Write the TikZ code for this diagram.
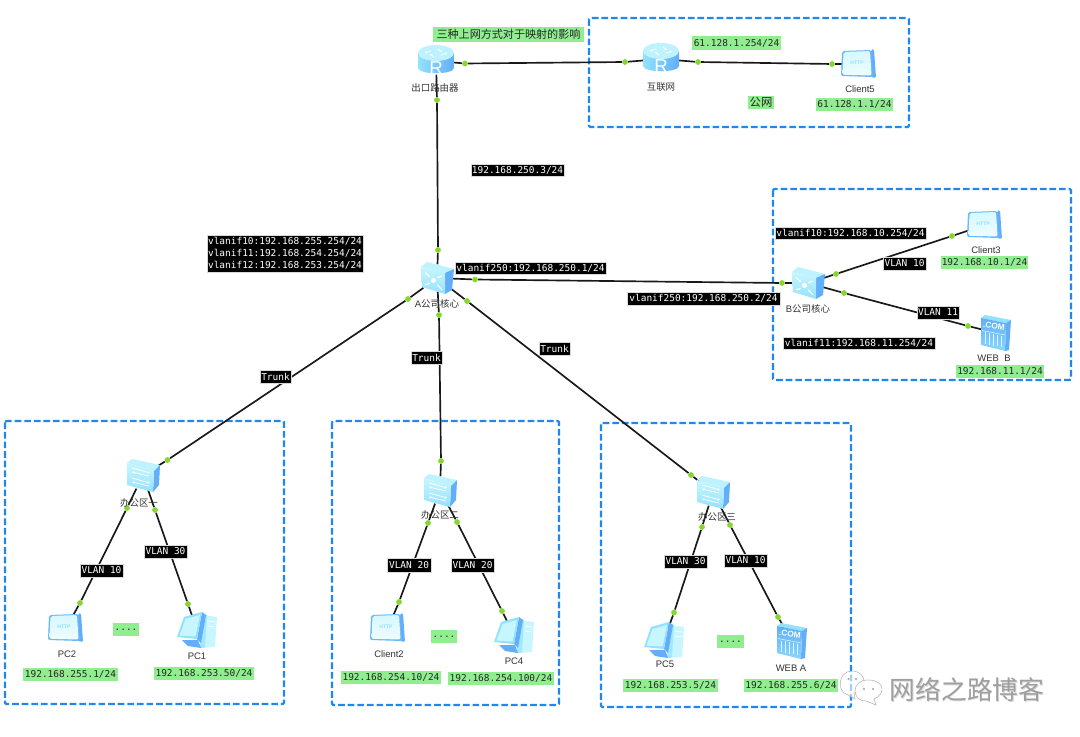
\documentclass[tikz,border=0pt]{standalone}
\usepackage{fontspec}
\usetikzlibrary{arrows.meta}
\setmainfont{Liberation Sans}
\newfontfamily\cjk{Noto Sans CJK SC}
\newfontfamily\mono{DejaVu Sans Mono}
\definecolor{zoneblue}{HTML}{1E88F0}
\definecolor{dotgreen}{HTML}{86D62F}
\definecolor{tagreen}{HTML}{90EE90}
\definecolor{sideblue}{HTML}{62AEF8}
\definecolor{paleblue}{HTML}{C8F6FF}
\definecolor{midblue}{HTML}{93E2FD}
\tikzset{
  zone/.style={draw=zoneblue,line width=1.7pt,dash pattern=on 5pt off 2.2pt,rounded corners=1pt},
  link/.style={draw=black!90,line width=1.25pt},
  ldot/.style={circle,fill=dotgreen,inner sep=0pt,minimum size=4.3pt},
  dev/.style={inner sep=0pt,minimum width=20pt,minimum height=20pt},
  devtext/.style={inner sep=0pt,text=black!80,font=\fontsize{7.1}{8}\selectfont},
  blk/.style={fill=black,draw=black!15,line width=.3pt,text=white,inner sep=0pt,font=\mono\fontsize{7.1}{9}\selectfont,align=center},
  grn/.style={fill=tagreen,inner sep=0pt,text=black!85,font=\mono\fontsize{7.1}{9}\selectfont},
  tinytip/.style={-{Stealth[length=1.8pt,width=1.8pt]}},
  pics/router/.style={code={
    \shade[left color=midblue,right color=sideblue] (-18,-8) -- (-18,7) .. controls (-17,14) and (17,14) .. (18,7) -- (18,-8) -- cycle;
    \fill[paleblue!80!midblue] (0,-8) ellipse [x radius=18,y radius=8];
    \draw[white,line width=.55pt,tinytip] (-5,-10) -- (-11,-8);
    \draw[white,line width=.55pt,tinytip] (5,-6) -- (11,-8);
    \draw[white,line width=.55pt,tinytip] (-2,-4) -- (-6,-7);
    \draw[white,line width=.55pt,tinytip] (2,-12) -- (6,-9);
    \node[inner sep=0pt,text=white,font=\fontsize{14}{14}\selectfont] (t) at (0,7) {R};
  }},
  pics/coresw/.style={code={
    \fill[paleblue!80!midblue] (-16,-11) -- (-10,-16) -- (17,-9) -- (8,-5) -- cycle;
    \fill[sideblue] (8,-5) -- (17,-9) -- (15,12) -- (8,16) -- cycle;
    \shade[top color=paleblue,bottom color=midblue] (-16,-11) -- (8,-5) -- (8,16) -- (-15,9) -- cycle;
    \fill[white] (-3.5,2.5) circle [radius=2.5];
    \draw[white,line width=.8pt,tinytip] (-12,-5.5) -- (-7,-1);
    \draw[white,line width=.8pt,tinytip] (5,-2) -- (0,0);
    \draw[white,line width=.8pt,tinytip] (-12,7) -- (-7,5);
    \draw[white,line width=.8pt,tinytip] (5,12) -- (0,6.5);
  }},
  pics/accesssw/.style={code={
    \fill[paleblue!80!midblue] (-16,-12) -- (-11,-16) -- (17,-10) -- (11,-4) -- cycle;
    \fill[sideblue] (11,-4) -- (17,-10) -- (16,10) -- (10,17) -- cycle;
    \shade[top color=paleblue,bottom color=midblue] (-16,-12) -- (11,-4) -- (10,17) -- (-16,10) -- cycle;
    \draw[white,line width=.6pt,tinytip] (-11,-7) -- (7,-2);
    \draw[white,line width=.6pt,tinytip] (6,1) -- (-11,-3);
    \draw[white,line width=.6pt,tinytip] (-11,3) -- (7,8);
    \draw[white,line width=.6pt,tinytip] (6,11) -- (-11,7);
  }},
  pics/httpbox/.style={code={
    \fill[sideblue,rounded corners=1pt] (12,-14) -- (15,-15) -- (17,14) -- (12,13) -- cycle;
    \fill[sideblue!80!midblue,rounded corners=1.5pt] (-17,-13) -- (12,-14) -- (14,13) -- (-18,12) -- cycle;
    \shade[top color=paleblue!75!white,bottom color=white!70!paleblue,rounded corners=1.5pt] (-15.5,-12) -- (11,-13) -- (12.5,11.5) -- (-16.5,10.8) -- cycle;
    \node[inner sep=0pt,text=midblue,font=\bfseries\fontsize{3.8}{4}\selectfont] (t) at (-2,-1) {HTTP};
  }},
  pics/desktop/.style={code={
    \fill[paleblue] (6,-15) -- (20,-13) -- (18,17) -- (3,18) -- cycle;
    \fill[midblue!70!paleblue] (6,-15) -- (10,-15.5) -- (8,17.5) -- (3,18) -- cycle;
    \draw[white,line width=.5pt] (11,-9) -- (18,-8) (11,-4) -- (18,-3);
    \fill[sideblue] (-15,10) -- (1,10) -- (4,18) -- (-9,16) -- cycle;
    \fill[sideblue] (5,-18) -- (9,-15) -- (4,13) -- (0,9) -- cycle;
    \fill[midblue] (-13,-13) -- (5,-18) -- (0,9) -- (-20,7) -- cycle;
    \fill[paleblue] (-11.5,-11) -- (3,-15) -- (-1.5,6.5) -- (-17.5,5.5) -- cycle;
  }},
  pics/webbox/.style={code={
    \fill[midblue] (-15,-15) -- (-11,-18) -- (15,-13) -- (10,-10) -- cycle;
    \fill[sideblue] (10,-10) -- (15,-13) -- (13,17) -- (9,18) -- cycle;
    \shade[top color=sideblue,bottom color=midblue!80!sideblue] (-15,-15) -- (10,-10) -- (9,18) -- (-15,12) -- cycle;
    \node[inner sep=0pt,text=white,rotate=-8,font=\bfseries\fontsize{6.2}{7}\selectfont] (t) at (-2,-7) {.COM};
    \foreach \i in {-11,-7,...,5}
      \draw[white!70!midblue,line width=.4pt] (\i,{-0.5+(\i+11)*.2}) -- (\i,{11+(\i+11)*.2});
    \draw[white!70!midblue,line width=.4pt] (-14,-2.5) -- (9,2);
  }},
}
\newcommand\lbx[7]{\node[#1,minimum width={(#4-#3)*0.75pt},minimum height={(#6-#5)*0.75pt}] (#2) at ({(#3+#4)/2},{(#5+#6)/2}) {#7};}
\begin{document}
\begin{tikzpicture}[x=0.75pt,y=-0.75pt]
\useasboundingbox (0,0) rectangle (1080,737);
\fill[white] (0,0) rectangle (1080,737);
% zones
\draw[zone] (589,18) rectangle (909,127);
\draw[zone] (773,189) rectangle (1071,380);
\draw[zone] (5,421) rectangle (284,704);
\draw[zone] (332,421) rectangle (559,705);
\draw[zone] (601,423) rectangle (851,707);
% devices
\node[dev] (R1) at (436,61) {};
\node[dev] (R2) at (661,59) {};
\node[dev] (C5) at (859,64) {};
\node[dev] (A) at (437,278) {};
\node[dev] (B) at (808,283) {};
\node[dev] (C3) at (985,225) {};
\node[dev] (WB) at (996,333) {};
\node[dev] (S1) at (143,475) {};
\node[dev] (S2) at (440,490) {};
\node[dev] (S3) at (713,492) {};
\node[dev] (PC2) at (66,628) {};
\node[dev] (PC1) at (197,630) {};
\node[dev] (C2) at (388,628) {};
\node[dev] (PC4) at (514,635) {};
\node[dev] (PC5) at (664,640) {};
\node[dev] (WA) at (792,641) {};
% interface dots
\node[ldot] (a1) at (465,63.5) {};
\node[ldot] (a2) at (625,62) {};
\node[ldot] (b1) at (698,62) {};
\node[ldot] (b2) at (832,64) {};
\node[ldot] (c1) at (437,100) {};
\node[ldot] (c2) at (438,250) {};
\node[ldot] (d1) at (475,279.5) {};
\node[ldot] (d2) at (782,283) {};
\node[ldot] (e1) at (408,299) {};
\node[ldot] (e2) at (167.5,460) {};
\node[ldot] (f1) at (439,315) {};
\node[ldot] (f2) at (441,461) {};
\node[ldot] (g1) at (467,301) {};
\node[ldot] (g2) at (691,475) {};
\node[ldot] (h1) at (836,274) {};
\node[ldot] (h2) at (952,236) {};
\node[ldot] (i1) at (844,293) {};
\node[ldot] (i2) at (968,326) {};
\node[ldot] (j1) at (127,508) {};
\node[ldot] (j2) at (80,603) {};
\node[ldot] (k1) at (155,510) {};
\node[ldot] (k2) at (188,604) {};
\node[ldot] (l1) at (428,523) {};
\node[ldot] (l2) at (399,602) {};
\node[ldot] (m1) at (457,522) {};
\node[ldot] (m2) at (502,611) {};
\node[ldot] (n1) at (702,527) {};
\node[ldot] (n2) at (674,612.5) {};
\node[ldot] (o1) at (730,525) {};
\node[ldot] (o2) at (778,617) {};
% connectors
\draw[link] (R1) -- (a1) -- (a2) -- (R2);
\draw[link] (R2) -- (b1) -- (b2) -- (C5);
\draw[link] (R1) -- (c1) -- (c2) -- (A);
\draw[link] (A) -- (d1) -- (d2) -- (B);
\draw[link] (A) -- (e1) -- (e2) -- (S1);
\draw[link] (A) -- (f1) -- (f2) -- (S2);
\draw[link] (A) -- (g1) -- (g2) -- (S3);
\draw[link] (B) -- (h1) -- (h2) -- (C3);
\draw[link] (B) -- (i1) -- (i2) -- (WB);
\draw[link] (S1) -- (j1) -- (j2) -- (PC2);
\draw[link] (S1) -- (k1) -- (k2) -- (PC1);
\draw[link] (S2) -- (l1) -- (l2) -- (C2);
\draw[link] (S2) -- (m1) -- (m2) -- (PC4);
\draw[link] (S3) -- (n1) -- (n2) -- (PC5);
\draw[link] (S3) -- (o1) -- (o2) -- (WA);
% icons
\pic (R1i) at (R1) {router};
\pic (R2i) at (R2) {router};
\pic (C5i) at (C5) {httpbox};
\pic (Ai) at (A) {coresw};
\pic (Bi) at (B) {coresw};
\pic (C3i) at (C3) {httpbox};
\pic (WBi) at (WB) {webbox};
\pic (S1i) at (S1) {accesssw};
\pic (S2i) at (S2) {accesssw};
\pic (S3i) at (S3) {accesssw};
\pic (PC2i) at (PC2) {httpbox};
\pic (PC1i) at (PC1) {desktop};
\pic (C2i) at (C2) {httpbox};
\pic (PC4i) at (PC4) {desktop};
\pic (PC5i) at (PC5) {desktop};
\pic (WAi) at (WA) {webbox};
% device names
\node[devtext] (tR1) at (435,88) {\cjk 出口路由器};
\node[devtext] (tR2) at (661,87) {\cjk 互联网};
\node[devtext] (tC5) at (860,89) {Client5};
\node[devtext] (tA) at (437,304) {A\cjk 公司核心};
\node[devtext] (tB) at (808,309) {B\cjk 公司核心};
\node[devtext] (tC3) at (986,250) {Client3};
\node[devtext] (tWB) at (994,358) {WEB\ \ B};
\node[devtext] (tS1) at (139,503) {\cjk 办公区一};
\node[devtext] (tS2) at (440,515) {\cjk 办公区二};
\node[devtext] (tS3) at (717,517) {\cjk 办公区三};
\node[devtext] (tPC2) at (67,654) {PC2};
\node[devtext] (tPC1) at (197,656) {PC1};
\node[devtext] (tC2) at (389,654) {Client2};
\node[devtext] (tPC4) at (514,661) {PC4};
\node[devtext] (tPC5) at (665,664) {PC5};
\node[devtext] (tWA) at (791,668) {WEB A};
% green tags
\lbx{grn,font=\cjk\fontsize{8.3}{9}\selectfont}{title}{433}{584}{27}{42}{三种上网方式对于映射的影响}
\lbx{grn}{g1}{692}{781}{36}{50}{61.128.1.254/24}
\lbx{grn,font=\cjk\fontsize{8.5}{9}\selectfont}{g2}{748}{774}{96}{109}{公网}
\lbx{grn}{g3}{816}{893}{98}{111}{61.128.1.1/24}
\lbx{grn}{g4}{941}{1028}{256}{269}{192.168.10.1/24}
\lbx{grn}{g5}{956}{1044}{365}{378}{192.168.11.1/24}
\lbx{grn}{g6}{23}{118}{668}{681}{192.168.255.1/24}
\lbx{grn}{g7}{154}{254}{667}{680}{192.168.253.50/24}
\lbx{grn}{g8}{113}{139}{623}{636}{....}
\lbx{grn}{g9}{341}{441}{671}{684}{192.168.254.10/24}
\lbx{grn}{g10}{448}{554}{672}{685}{192.168.254.100/24}
\lbx{grn}{g11}{431}{457}{630}{643}{....}
\lbx{grn}{g12}{623}{718}{679}{692}{192.168.253.5/24}
\lbx{grn}{g13}{744}{838}{679}{692}{192.168.255.6/24}
\lbx{grn}{g14}{717}{744}{635}{648}{....}
% black tags
\lbx{blk}{k1t}{471}{564}{164}{176}{192.168.250.3/24}
\lbx{blk}{k2t}{207}{363}{235}{272}{vlanif10:192.168.255.254/24\\vlanif11:192.168.254.254/24\\vlanif12:192.168.253.254/24}
\lbx{blk}{k3t}{455}{606}{262}{274}{vlanif250:192.168.250.1/24}
\lbx{blk}{k4t}{627}{780}{292}{305}{vlanif250:192.168.250.2/24}
\lbx{blk}{k5t}{775}{926}{227}{239}{vlanif10:192.168.10.254/24}
\lbx{blk}{k6t}{783}{935}{337}{349}{vlanif11:192.168.11.254/24}
\lbx{blk}{k7t}{883}{926}{257}{270}{VLAN 10}
\lbx{blk}{k8t}{917}{959}{306}{319}{VLAN 11}
\lbx{blk}{k9t}{260}{291}{370}{383}{Trunk}
\lbx{blk}{k10t}{411}{442}{351}{364}{Trunk}
\lbx{blk}{k11t}{539}{570}{342}{355}{Trunk}
\lbx{blk}{k12t}{80}{123}{564}{577}{VLAN 10}
\lbx{blk}{k13t}{144}{187}{545}{558}{VLAN 30}
\lbx{blk}{k14t}{387}{431}{558}{572}{VLAN 20}
\lbx{blk}{k15t}{451}{494}{558}{572}{VLAN 20}
\lbx{blk}{k16t}{664}{707}{555}{568}{VLAN 30}
\lbx{blk}{k17t}{724}{767}{554}{567}{VLAN 10}
% watermark
\draw[gray!60,fill=white,fill opacity=.6,line width=.4pt] (852,671) .. controls (838,671) and (836,692) .. (848,695) -- (855,699) -- (854,693) .. controls (868,693) and (868,671) .. (852,671) -- cycle;
\fill[gray!70] (848.5,679) circle [radius=1.1] (856,679) circle [radius=1.1];
\draw[gray!60,fill=white,fill opacity=.8,line width=.4pt] (868,680) .. controls (851,680) and (851,701) .. (866,701) -- (876,705) -- (874,699) .. controls (886,694) and (885,680) .. (868,680) -- cycle;
\fill[gray!70] (864,689) circle [radius=1.1] (873,689) circle [radius=1.1];
\node[inner sep=0pt,text=gray!30,font=\cjk\fontsize{19.3}{20}\selectfont] (wm2) at (967.6,690.6) {网络之路博客};
\node[inner sep=0pt,text=gray!75,font=\cjk\fontsize{19.3}{20}\selectfont] (wm) at (967,690) {网络之路博客};
\end{tikzpicture}
\end{document}
